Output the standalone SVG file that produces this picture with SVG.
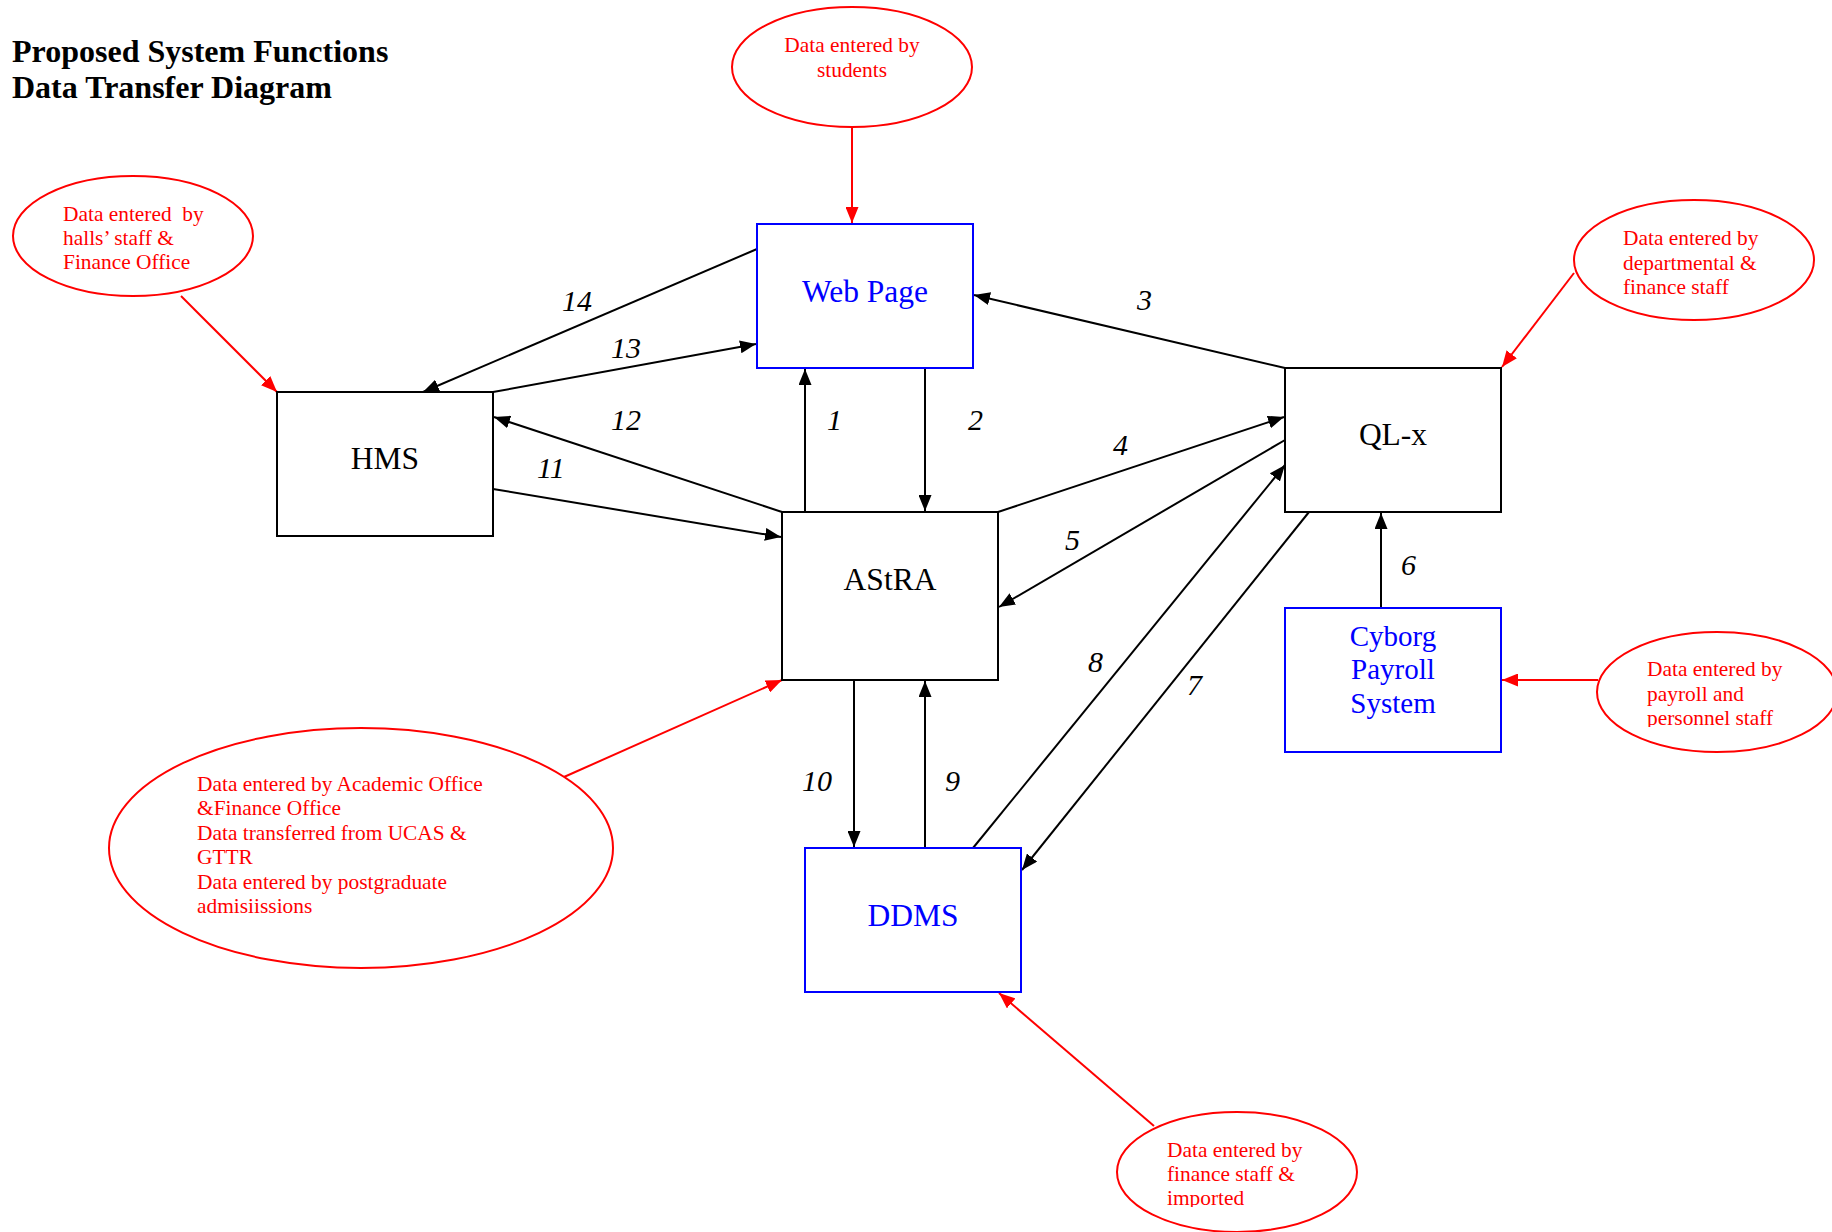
<svg xmlns="http://www.w3.org/2000/svg" width="1832" height="1232" viewBox="0 0 1832 1232">
<style>
  .bg{fill:#ffffff}
  .title{font-family:"Liberation Serif","Times New Roman",serif;font-size:32px;font-weight:bold;fill:#000}
  .box{fill:#fff;stroke:#000;stroke-width:2}
  .bbox{fill:#fff;stroke:#0000ff;stroke-width:2}
  .lbl{font-family:"Liberation Serif","Times New Roman",serif;font-size:31.5px;fill:#000;text-anchor:middle}
  .blbl{font-family:"Liberation Serif","Times New Roman",serif;font-size:31.5px;fill:#0000ff;text-anchor:middle}
  .cyb{font-family:"Liberation Serif","Times New Roman",serif;font-size:29px;fill:#0000ff;text-anchor:middle}
  .ell{fill:#fff;stroke:#ff0000;stroke-width:2}
  .etxt{font-family:"Liberation Serif","Times New Roman",serif;font-size:21.4px;fill:#ff0000;white-space:pre}
  .conn{stroke:#000;stroke-width:2;fill:none;marker-end:url(#ah)}
  .rconn{stroke:#ff0000;stroke-width:2;fill:none;marker-end:url(#rah)}
  .num{font-family:"Liberation Serif","Times New Roman",serif;font-size:30px;font-style:italic;fill:#000}
</style>
<defs>
  <marker id="ah" viewBox="0 0 16 13" refX="16" refY="6.5" markerWidth="16" markerHeight="13" markerUnits="userSpaceOnUse" orient="auto">
    <path d="M0,0 L16,6.5 L0,13 z" fill="#000"/>
  </marker>
  <marker id="rah" viewBox="0 0 16 13" refX="16" refY="6.5" markerWidth="16" markerHeight="13" markerUnits="userSpaceOnUse" orient="auto">
    <path d="M0,0 L16,6.5 L0,13 z" fill="#ff0000"/>
  </marker>
  <clipPath id="clipPay"><rect x="1590" y="640" width="240" height="87"/></clipPath>
  <clipPath id="clipDdms"><rect x="1110" y="1120" width="250" height="87"/></clipPath>
</defs>
<rect class="bg" x="0" y="0" width="1832" height="1232"/>

<g id="title">
  <text class="title" x="12" y="62">Proposed System Functions</text>
  <text class="title" x="12" y="98">Data Transfer Diagram</text>
</g>

<g id="connectors">
  <line class="conn" x1="805" y1="512" x2="805" y2="369"/>
  <line class="conn" x1="925" y1="368" x2="925" y2="511"/>
  <line class="conn" x1="1285" y1="368" x2="974" y2="295"/>
  <line class="conn" x1="998" y1="512" x2="1284" y2="417"/>
  <line class="conn" x1="1285" y1="440" x2="999" y2="607"/>
  <line class="conn" x1="1381" y1="608" x2="1381" y2="513"/>
  <line class="conn" x1="1309" y1="512" x2="1022" y2="870"/>
  <line class="conn" x1="973" y1="848" x2="1285" y2="465"/>
  <line class="conn" x1="925" y1="848" x2="925" y2="681"/>
  <line class="conn" x1="854" y1="680" x2="854" y2="847"/>
  <line class="conn" x1="493" y1="489" x2="781" y2="537"/>
  <line class="conn" x1="782" y1="512" x2="494" y2="417"/>
  <line class="conn" x1="493" y1="392" x2="756" y2="344"/>
  <line class="conn" x1="757" y1="249" x2="423" y2="392"/>
  <line class="rconn" x1="181" y1="296" x2="277" y2="392"/>
  <line class="rconn" x1="852" y1="127" x2="852" y2="223"/>
  <line class="rconn" x1="1574" y1="273" x2="1502" y2="367"/>
  <line class="rconn" x1="1598" y1="680" x2="1502" y2="680"/>
  <line class="rconn" x1="564" y1="777" x2="782" y2="680"/>
  <line class="rconn" x1="1154" y1="1126" x2="999" y2="993"/>
</g>

<g id="labels">
  <text class="num" x="827" y="430">1</text>
  <text class="num" x="968" y="430">2</text>
  <text class="num" x="1137" y="310">3</text>
  <text class="num" x="1113" y="455">4</text>
  <text class="num" x="1065" y="550">5</text>
  <text class="num" x="1401" y="575">6</text>
  <text class="num" x="1187" y="695">7</text>
  <text class="num" x="1088" y="672">8</text>
  <text class="num" x="945" y="791">9</text>
  <text class="num" x="802" y="791">10</text>
  <text class="num" x="537" y="478">11</text>
  <text class="num" x="611" y="430">12</text>
  <text class="num" x="611" y="358">13</text>
  <text class="num" x="562" y="311">14</text>
</g>

<g id="webpage">
  <rect class="bbox" x="757" y="224" width="216" height="144"/>
  <text class="blbl" x="865" y="302">Web Page</text>
</g>
<g id="hms">
  <rect class="box" x="277" y="392" width="216" height="144"/>
  <text class="lbl" x="385" y="469">HMS</text>
</g>
<g id="astra">
  <rect class="box" x="782" y="512" width="216" height="168"/>
  <text class="lbl" x="890" y="590">AStRA</text>
</g>
<g id="qlx">
  <rect class="box" x="1285" y="368" width="216" height="144"/>
  <text class="lbl" x="1393" y="445">QL-x</text>
</g>
<g id="cyborg">
  <rect class="bbox" x="1285" y="608" width="216" height="144"/>
  <text class="cyb" x="1393" y="646">Cyborg</text>
  <text class="cyb" x="1393" y="679">Payroll</text>
  <text class="cyb" x="1393" y="713">System</text>
</g>
<g id="ddms">
  <rect class="bbox" x="805" y="848" width="216" height="144"/>
  <text class="blbl" x="913" y="926">DDMS</text>
</g>

<g id="note-halls">
  <ellipse class="ell" cx="133" cy="236" rx="120" ry="60"/>
  <text class="etxt" x="63" y="221">Data entered  by</text>
  <text class="etxt" x="63" y="245">halls’ staff &amp;</text>
  <text class="etxt" x="63" y="269">Finance Office</text>
</g>
<g id="note-students">
  <ellipse class="ell" cx="852" cy="67" rx="120" ry="60"/>
  <text class="etxt" x="852" y="52" text-anchor="middle">Data entered by</text>
  <text class="etxt" x="852" y="77" text-anchor="middle">students</text>
</g>
<g id="note-dept">
  <ellipse class="ell" cx="1694" cy="260" rx="120" ry="60"/>
  <text class="etxt" x="1623" y="245">Data entered by</text>
  <text class="etxt" x="1623" y="270">departmental &amp;</text>
  <text class="etxt" x="1623" y="294">finance staff</text>
</g>
<g id="note-payroll">
  <ellipse class="ell" cx="1717" cy="692" rx="120" ry="60"/>
  <g clip-path="url(#clipPay)">
    <text class="etxt" x="1647" y="676">Data entered by</text>
    <text class="etxt" x="1647" y="701">payroll and</text>
    <text class="etxt" x="1647" y="725">personnel staff</text>
  </g>
</g>
<g id="note-academic">
  <ellipse class="ell" cx="361" cy="848" rx="252" ry="120"/>
  <text class="etxt" x="197" y="791">Data entered by Academic Office</text>
  <text class="etxt" x="197" y="815">&amp;Finance Office</text>
  <text class="etxt" x="197" y="840">Data transferred from UCAS &amp;</text>
  <text class="etxt" x="197" y="864">GTTR</text>
  <text class="etxt" x="197" y="889">Data entered by postgraduate</text>
  <text class="etxt" x="197" y="913">admisiissions</text>
</g>
<g id="note-ddms">
  <ellipse class="ell" cx="1237" cy="1172" rx="120" ry="60"/>
  <g clip-path="url(#clipDdms)">
    <text class="etxt" x="1167" y="1157">Data entered by</text>
    <text class="etxt" x="1167" y="1181">finance staff &amp;</text>
    <text class="etxt" x="1167" y="1205">imported</text>
  </g>
</g>
</svg>
